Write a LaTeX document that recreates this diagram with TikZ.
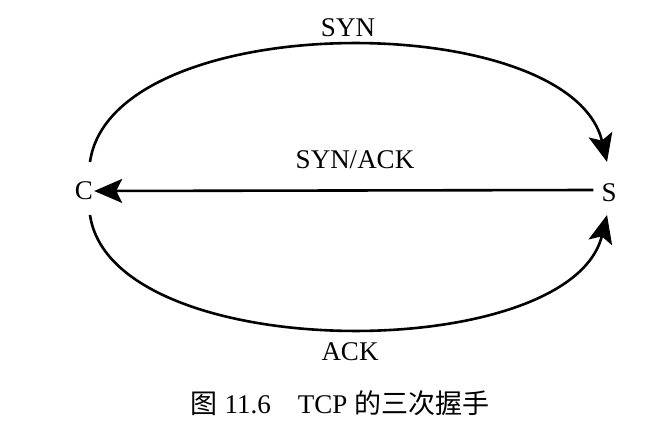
\documentclass[tikz,border=0pt]{standalone}
\usepackage{fontspec}
\setmainfont{Liberation Serif}
\newfontfamily\cjk{Noto Sans CJK SC}
\usetikzlibrary{arrows.meta,calc}

\begin{document}
\begin{tikzpicture}[x=1pt, y=-1pt,
    endpt/.style={font=\fontsize{27}{32}\selectfont, inner sep=1pt},
    msg/.style={font=\fontsize{27}{32}\selectfont},
    arr/.style={line width=2.6pt, -{Stealth[length=28pt, width=24pt, inset=6pt]}}
]
\useasboundingbox (0,0) rectangle (666,435);

\node[endpt] (C) at (84,191) {C};
\node[endpt] (S) at (609,193) {S};

% top and bottom arcs
\draw[arr] ($(C)+(6,-29)$) .. controls (112,7) and (570,7) .. ($(S)+(-2,-31)$);
\draw[arr] ($(C)+(6,24)$) .. controls (112,366) and (570,366) .. ($(S)+(-2,22)$);
% middle line
\draw[arr] ($(S.west)+(-7,-3)$) -- (C.east);

\node[msg] (syn) at (348,28) {SYN};
\node[msg] (synack) at (355,160) {SYN/ACK};
\node[msg] (ack) at (350,352) {ACK};

\node[font=\fontsize{27}{32}\selectfont] (cap) at (340,403) {{\cjk 图} 11.6\hspace{1em}TCP {\cjk 的三次握手}};
\end{tikzpicture}
\end{document}
